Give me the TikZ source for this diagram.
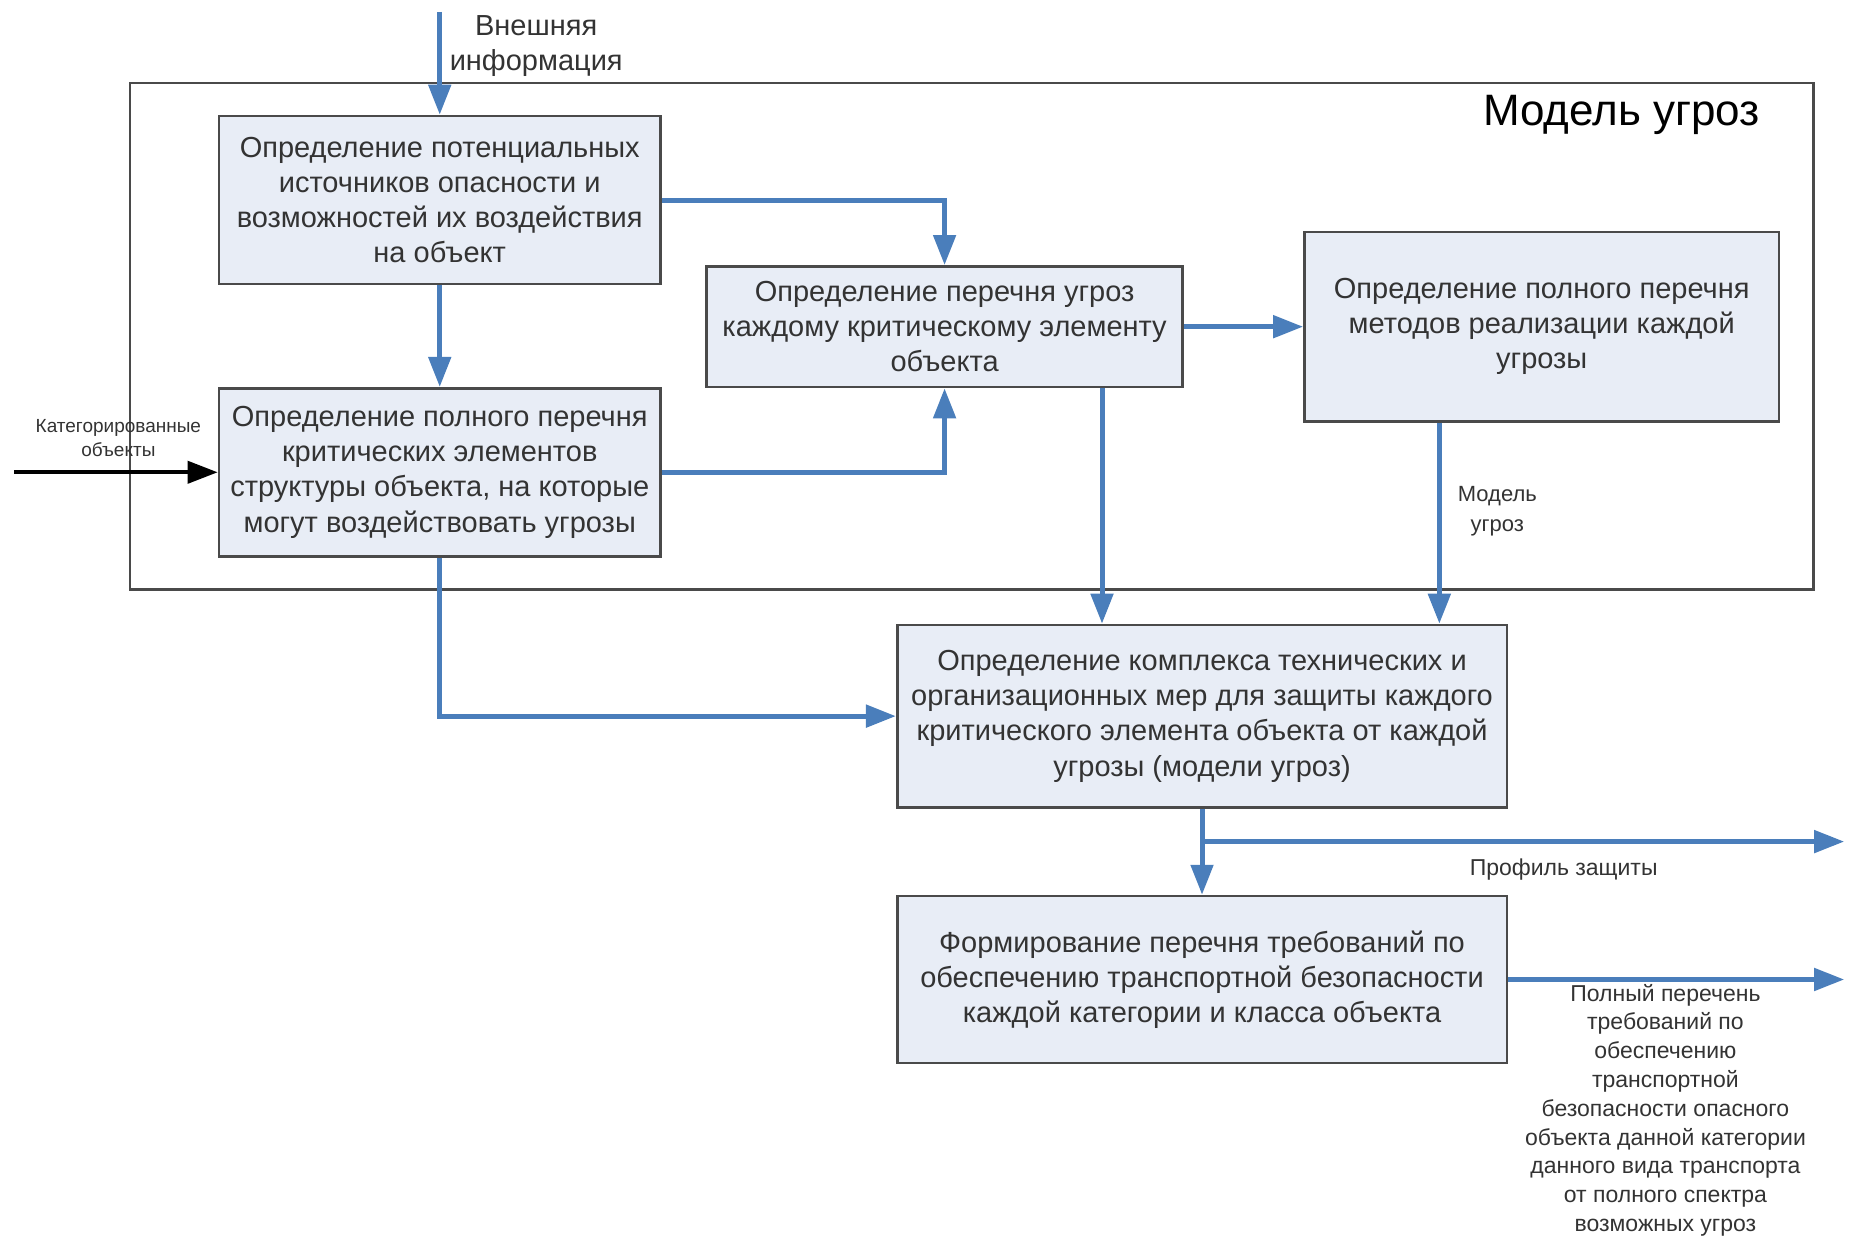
\documentclass[tikz,border=0pt]{standalone}
\usepackage{fontspec}
\setmainfont{Liberation Sans}
\usetikzlibrary{arrows.meta,calc}
\newlength\upx
\setlength\upx{0.592pt}
\definecolor{boxfill}{HTML}{E8EDF6}
\definecolor{boxline}{HTML}{4A4A4A}
\definecolor{flow}{HTML}{4A7EBB}
\definecolor{txt}{HTML}{333333}
\tikzset{
  procbox/.style={draw=boxline, line width=1.3pt, fill=boxfill, align=center,
    inner sep=2pt, font=\fontsize{14.5}{17.6}\selectfont, text=txt},
  flowarrow/.style={draw=flow, line width=2.5pt, -{Triangle[length=15pt,width=11pt]}},
  blackarrow/.style={draw=black, line width=2pt, -{Triangle[length=15pt,width=11pt]}},
  lbl/.style={align=center, text=txt, inner sep=0pt},
}
\begin{document}
\begin{tikzpicture}[x=0.592pt, y=-0.592pt]
\useasboundingbox (0,0) rectangle (1568,1046);
% frame
\draw[boxline, line width=1.2pt] (110,70) rectangle (1532,498);
\node[lbl, font=\fontsize{22}{26}\selectfont, text=black] (title) at (1370,97) {Модель угроз};

% boxes
\node[procbox, minimum width=373*\upx, minimum height=142*\upx] (b1) at (371.5,169)
  {Определение потенциальных\\источников опасности и\\возможностей их воздействия\\на объект};
\node[procbox, minimum width=373*\upx, minimum height=142*\upx] (b2) at (371.5,399)
  {Определение полного перечня\\критических элементов\\структуры объекта, на которые\\могут воздействовать угрозы};
\node[procbox, minimum width=402*\upx, minimum height=102*\upx] (b3) at (798,276)
  {Определение перечня угроз\\каждому критическому элементу\\объекта};
\node[procbox, minimum width=401*\upx, minimum height=160*\upx] (b4) at (1302.5,276)
  {Определение полного перечня\\методов реализации каждой\\угрозы};
\node[procbox, minimum width=515*\upx, minimum height=154*\upx] (b5) at (1015.5,605)
  {Определение комплекса технических и\\организационных мер для защиты каждого\\критического элемента объекта от каждой\\угрозы (модели угроз)};
\node[procbox, minimum width=515*\upx, minimum height=141*\upx] (b6) at (1015.5,827.5)
  {Формирование перечня требований по\\обеспечению транспортной безопасности\\каждой категории и класса объекта};

% coordinates
\coordinate (ext) at (371.5,10);
\coordinate (catin) at (12,399);
\coordinate (xa) at (931,0);
\coordinate (xb) at (1216,0);
\coordinate (split) at (1015.5,711);
\coordinate (prof) at (1558,711);
\coordinate (full) at (1558,827.5);

% labels
\node[lbl, font=\fontsize{14.5}{17.8}\selectfont] (extl) at (453,39) {Внешняя\\информация};
\node[lbl, font=\fontsize{9.5}{11.8}\selectfont] (catl) at (100,370) {Категорированные\\объекты};
\node[lbl, font=\fontsize{11}{14.8}\selectfont] (modl) at (1265,432) {Модель\\угроз};
\node[lbl, font=\fontsize{11.5}{14}\selectfont] (profl) at (1321,735) {Профиль защиты};
\node[lbl, font=\fontsize{11.5}{14.4}\selectfont, anchor=north] (fulll) at (1407,831)
  {Полный перечень\\требований по\\обеспечению\\транспортной\\безопасности опасного\\объекта данной категории\\данного вида транспорта\\от полного спектра\\возможных угроз};

% connectors
\draw[flowarrow] (ext) -- (b1.north);
\draw[flowarrow] (b1.south) -- (b2.north);
\draw[flowarrow] (b1.east) -| (b3.north);
\draw[flowarrow] (b2.east) -| (b3.south);
\draw[flowarrow] (b3.east) -- (b4.west);
\draw[flowarrow] (b3.south -| xa) -- (b5.north -| xa);
\draw[flowarrow] (b4.south -| xb) -- (b5.north -| xb);
\draw[flowarrow] (b2.south) |- (b5.west);
\draw[flowarrow] (b5.south) -- (b6.north);
\draw[flowarrow] (split) -- (prof);
\draw[flowarrow] (b6.east) -- (full);
\draw[blackarrow] (catin) -- (b2.west);
\end{tikzpicture}
\end{document}
